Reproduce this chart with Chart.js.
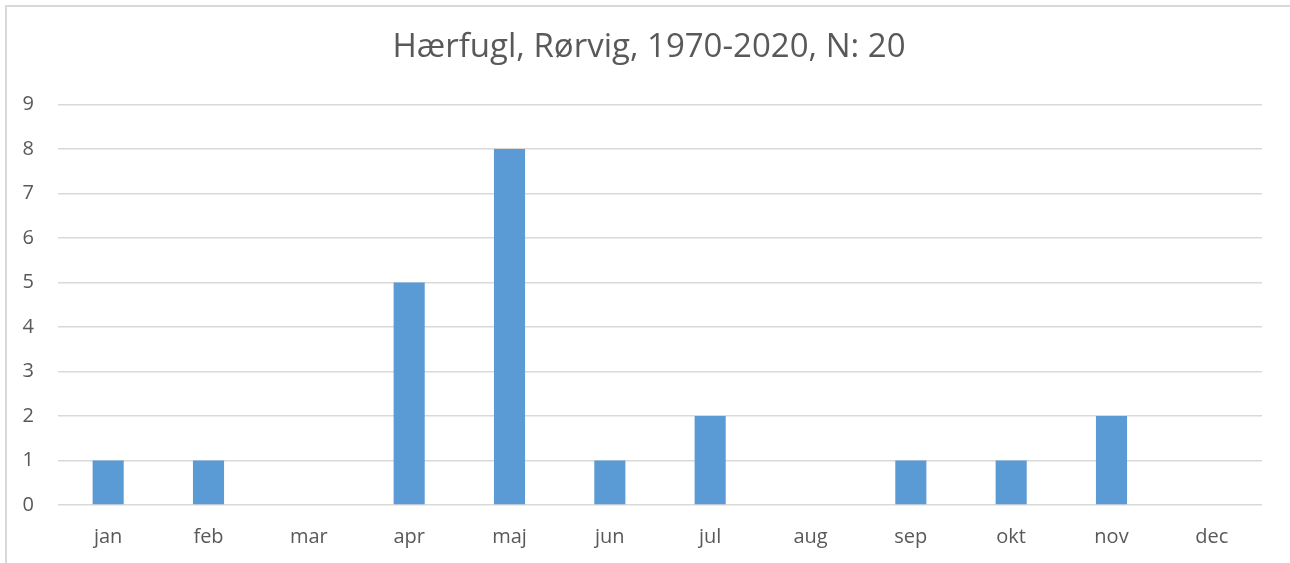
<!DOCTYPE html>
<html>
<head>
<meta charset="utf-8">
<script src="https://cdn.jsdelivr.net/npm/chart.js@4"></script>
<style>
  html, body { margin: 0; padding: 0; background: #fff; overflow: hidden; }
  #frame { position: absolute; left: 5px; top: 5px; width: 1400px; height: 700px;
           border-left: 2px solid #d9d9d9; border-top: 2px solid #d9d9d9; }
  #wrap { position: absolute; left: 0; top: 0; width: 1290px; height: 563px; }
</style>
</head>
<body>
<div id="frame"></div>
<div id="wrap"><canvas id="chart"></canvas></div>
<script>
// data
const months = ['jan', 'feb', 'mar', 'apr', 'maj', 'jun', 'jul', 'aug', 'sep', 'okt', 'nov', 'dec'];
const counts = [1, 1, 0, 5, 8, 1, 2, 0, 1, 1, 2, 0];
const titleText = 'Hærfugl, Rørvig, 1970-2020, N: 20';

const textColor = '#595959';
const gridColor = '#d9d9d9';
const fontFamily = '"Open Sans", sans-serif';

// centre the title on the whole frame, not just on the padded area
const centerTitle = {
    id: 'centerTitle',
    afterLayout(chart) {
        if (chart.titleBlock) {
            chart.titleBlock.left = 8;
            chart.titleBlock.right = chart.width;
        }
    }
};

new Chart(document.getElementById('chart'), {
    type: 'bar',
    data: {
        labels: months,
        datasets: [{
            data: counts,
            backgroundColor: '#5b9bd5',
            borderWidth: 0,
            barPercentage: 0.31,
            categoryPercentage: 1
        }]
    },
    options: {
        responsive: true,
        maintainAspectRatio: false,
        animation: false,
        layout: { padding: { left: 0, right: 28, top: 14, bottom: 0 } },
        plugins: {
            legend: { display: false },
            tooltip: { enabled: false },
            title: {
                display: true,
                text: titleText,
                color: textColor,
                font: { family: fontFamily, size: 33, weight: 'normal' },
                padding: { top: 14, bottom: 37 }
            }
        },
        scales: {
            x: {
                grid: { display: false, drawTicks: false },
                border: { display: false },
                ticks: { color: textColor, font: { family: fontFamily, size: 20 }, padding: 20, maxRotation: 0 },
                afterFit: function(scale) { scale.height = 58; }
            },
            y: {
                min: 0,
                max: 9,
                grid: { color: gridColor, lineWidth: 1.5, drawTicks: false },
                border: { display: false },
                ticks: { stepSize: 1, color: textColor, font: { family: fontFamily, size: 20 }, padding: 24 },
                afterFit: function(scale) { scale.width = 58; }
            }
        }
    },
    plugins: [centerTitle]
});
</script>
</body>
</html>
